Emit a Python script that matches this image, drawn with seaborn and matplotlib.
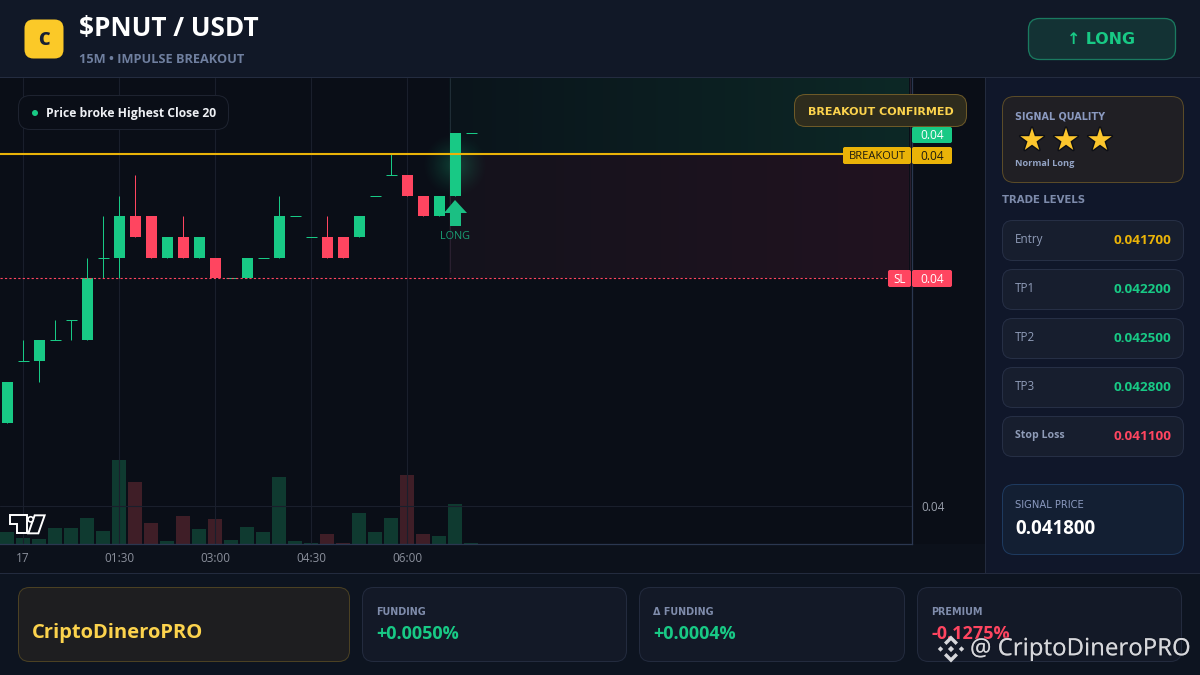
import numpy as np
import pandas as pd
import matplotlib
matplotlib.use("Agg")
import matplotlib.pyplot as plt
import seaborn as sns
from matplotlib.patches import FancyBboxPatch, Rectangle, Polygon, Circle
import matplotlib.patheffects as pe

# ---------- data ----------
opens  = [.0404,.0407,.0407,.0408,.0409,.0408,.0412,.0412,.0414,.0414,.0412,.0413,.0412,.0412,.0411,
          .0411,.0412,.0412,.0414,.0413,.0413,.0413,.0413,.0415,.0416,.0416,.0415,.0414,.0415,.0418]
closes = [.0406,.0407,.0408,.0408,.0409,.0411,.0412,.0414,.0413,.0412,.0413,.0412,.0413,.0411,.0411,
          .0412,.0412,.0414,.0414,.0413,.0412,.0412,.0414,.0415,.0416,.0415,.0414,.0415,.0418,.0418]
highs  = [.0406,.0408,.0408,.0409,.0409,.0412,.0414,.0415,.0416,.0414,.0413,.0414,.0413,.0412,.0411,
          .0412,.0412,.0415,.0414,.0413,.0414,.0413,.0414,.0415,.0417,.0416,.0415,.0415,.0418,.0418]
lows   = [.0404,.0407,.0406,.0408,.0408,.0408,.0411,.0411,.0413,.0412,.0412,.0412,.0412,.0411,.0411,
          .0411,.0412,.0412,.0414,.0413,.0412,.0412,.0413,.0415,.0416,.0415,.0414,.0414,.0415,.0418]
volumes = [12,6,5,16,16,26,13,84,62,21,3,28,15,25,4,17,12,67,3,1,10,1,31,12,26,69,10,8,40,1]
vol_dirs = ["up","up","up","up","up","up","up","up","down","down","up","down","up","down","up",
            "up","up","up","up","up","down","down","up","up","up","down","down","up","up","up"]
time_ticks = [1,7,13,19,25]
time_labels = ["17","01:30","03:00","04:30","06:00"]
breakout_level = 0.0417
stop_level = 0.0411
levels = [("Entry","0.041700"),("TP1","0.042200"),("TP2","0.042500"),("TP3","0.042800"),("Stop Loss","0.041100")]
stats = [("FUNDING","+0.0050%"),("Δ FUNDING","+0.0004%"),("PREMIUM","-0.1275%")]

GREEN="#18c985"; RED="#ff4560"; GOLD="#eab308"; SOFT="#fcd34d"
sns.set_theme(style="dark")
plt.rcParams['font.family']=['Open Sans','DejaVu Sans']

fig=plt.figure(figsize=(12,6.75),dpi=100,facecolor="#0a0e17")
def overlay(z):
    a=fig.add_axes([0,0,1,1],zorder=z); a.set_xlim(0,1200); a.set_ylim(675,0); a.axis("off"); a.patch.set_alpha(0); return a
bg=overlay(0); fg=overlay(5)

def rect(a,x0,y0,x1,y1,c,z=1): a.add_patch(Rectangle((x0,y0),x1-x0,y1-y0,fc=c,ec="none",zorder=z))
def card(a,x0,y0,x1,y1,r,fc,ec,z=2,lw=1.0,alpha=None):
    a.add_patch(FancyBboxPatch((x0+.5,y0+.5),x1-x0-1,y1-y0-1,boxstyle=f"round,pad=0,rounding_size={r}",fc=fc,ec=ec,lw=lw*.72,zorder=z,alpha=alpha,mutation_aspect=1))
def grad(a,x0,y0,x1,y1,c0,c1,z=1.5):
    t=np.linspace(0,1,256)[None,:,None]
    arr=(np.array(c0)[None,None,:]*(1-t)+np.array(c1)[None,None,:]*t)/255
    a.imshow(arr,extent=(x0,x1,y1,y0),aspect="auto",zorder=z,interpolation="bilinear")
    a.set_xlim(0,1200); a.set_ylim(675,0)
def T(a,x,y,s,size,color,weight="normal",ha="left",fam=None,z=6,**k):
    return a.text(x,y+1.3,s,fontsize=size,color=color,fontweight=weight,ha=ha,va="center",family=fam or ['Open Sans','DejaVu Sans'],zorder=z,**k)

# ---------- page regions ----------
rect(bg,0,0,1200,77,"#111827"); rect(bg,0,77,1200,78,"#242c40",1.2)
rect(bg,0,544,985,573,"#0c111b"); rect(bg,985,78,1200,573,"#10172a"); rect(bg,985,78,986,573,"#232b3e",1.2)
rect(bg,0,573,1200,675,"#0d1420"); rect(bg,0,573,1200,574,"#232b3e",1.2)

# zones + glow
grad(bg,449,78,909,155,(10,20,27),(13,40,38))
grad(bg,449,155,909,278,(20,18,28),(33,19,32))
bg.plot([449.5,449.5],[78,155],color="#1f2d36",lw=.72,zorder=1.8)
bg.plot([909.5,909.5],[78,278],color="#2a2030",lw=.72,zorder=1.8)
bg.plot([449.5,449.5],[155,272],color="#2a2030",lw=.72,zorder=1.8)
yy,xx=np.mgrid[-1:1:160j,-1:1:160j]; rr=np.clip(1-np.hypot(xx,yy),0,1)
glow=np.zeros((160,160,4)); glow[...,:3]=np.array([24,201,133])/255; glow[...,3]=.28*rr**1.3
bg.imshow(glow,extent=(422,488,198,132),aspect="auto",zorder=1.9,interpolation="bilinear")
bg.set_xlim(0,1200); bg.set_ylim(675,0)

# ---------- chart ----------
rectc=[0,1-544/675,912/1200,(544-78)/675]
frame=pd.DataFrame(dict(i=range(len(opens)),o=opens,c=closes,h=highs,l=lows,v=volumes,d=vol_dirs))
vol=fig.add_axes(rectc,zorder=1); vol.patch.set_alpha(0)
sns.barplot(data=frame,x="i",y="v",hue="d",hue_order=["up","down"],palette={"up":"#0f3a30","down":"#3f1e27"},
            native_scale=True,dodge=False,width=.9,saturation=1,legend=False,ax=vol,errorbar=None,
            linewidth=0,edgecolor="none")
xl=(-7/16,(912-7)/16)
vol.set_xlim(*xl); vol.set_ylim(0,466); vol.axis("off")

ax=fig.add_axes(rectc,zorder=2); ax.patch.set_alpha(0)
body=frame[frame.o!=frame.c].copy()
body["bot"]=body[["o","c"]].min(axis=1); body["ht"]=(body.o-body.c).abs()
for up,col in ((True,GREEN),(False,RED)):
    s=body[(body.c>body.o)==up]
    sns.barplot(x=s.i.values,y=s.ht.values,bottom=s.bot.values,native_scale=True,color=col,saturation=1,
                width=11/16,errorbar=None,ax=ax,zorder=3,linewidth=0)
wc=[RED if c<o else GREEN for o,c in zip(opens,closes)]
ax.vlines(frame.i,frame.l,frame.h,colors=wc,lw=.72,zorder=2.5,snap=True)
dj=frame[frame.o==frame.c]
ax.hlines(dj.c,dj.i-5.5/16,dj.i+5.5/16,colors=GREEN,lw=.72,zorder=3,snap=True)
ax.plot([xl[0],(843-7)/16],[breakout_level]*2,color=GOLD,lw=1.5,zorder=4)
ax.plot([xl[0],(888-7)/16],[stop_level]*2,color=RED,lw=.8,ls=(0,(2,2)),zorder=4)
ax.set_xlim(*xl)
ax.set_ylim(0.0411-265.7/207000,0.0411+200.3/207000)
ax.set_xticks(time_ticks,time_labels); ax.set_yticks([0.04],["0.04"])
ax.yaxis.tick_right()
ax.tick_params(axis="x",length=0,pad=6,labelsize=8.5,labelcolor="#8b909c")
ax.tick_params(axis="y",length=0,pad=7,labelsize=8.5,labelcolor="#9aa0ac")
ax.set_xlabel(""); ax.set_ylabel("")
ax.grid(True,color="#1a1f2c",lw=.8); ax.set_axisbelow(True)
for k,sp in ax.spines.items(): sp.set_visible(k in("bottom","right")); sp.set_color("#2b3750"); sp.set_linewidth(.9)

# ---------- chart labels ----------
card(fg,18,95,229,130,12,"#0a0e17","#1e2330")
fg.add_patch(Circle((35,113),3,fc=GREEN,ec="none",zorder=6))
T(fg,46,112,"Price broke Highest Close 20",8.7,"#eef0f4","bold")
card(fg,794,94,967,127,11,"#2e2c1d","#6e5a28",z=5)
T(fg,880.5,110.5,"BREAKOUT CONFIRMED",8.0,SOFT,"bold",ha="center",fam="DejaVu Sans")
def pill(x0,x1,y0,y1,c,s,tc,size=8):
    card(fg,x0,y0,x1,y1,1.5,c,c,z=4); T(fg,(x0+x1)/2,(y0+y1)/2-.5,s,size,tc,ha="center")
pill(912,952,127,143,GREEN,"0.04","#ffffff",8.6)
pill(843,911,147,164,GOLD,"BREAKOUT","#1c1a10",8)
pill(912,952,147,164,GOLD,"0.04","#1c1a10",8.6)
pill(888,911,270,287,RED,"SL","#ffffff",8.4)
pill(912,952,270,287,RED,"0.04","#ffffff",8.6)
fg.add_patch(Polygon([(455,200),(467,213),(461,213),(461,226),(450,226),(450,213),(444,213)],fc="#1bbf83",ec="none",zorder=6))
T(fg,455,235,"LONG",7.8,"#1a9d73",ha="center")
# chart-provider logo
ox,oy=0,440
tv=[[(30,226),(80,226),(80,280),(50,280),(50,252),(30,252)],[(104,226),(134,226),(115,280),(85,280)]]
for pts in tv:
    fg.add_patch(Polygon([(x/3+ox,y/3+oy) for x,y in pts],fc="#0a0e17",ec="white",lw=1.4,zorder=6))
fg.add_patch(Circle((92/3,238/3+oy),2.6,fc="#0a0e17",ec="white",lw=1.2,zorder=6))

# ---------- header ----------
card(fg,24,19,64,59,9,"#fbc928","none",z=2)
T(fg,44,39.5,"C",13,"#172033","heavy",ha="center")
T(fg,79,27.5,"$PNUT / USDT",18.8,"#ffffff","bold")
T(fg,79,58.5,"15M • IMPULSE BREAKOUT",9.2,"#6f7f9f","bold")
card(fg,1028,18,1176,60,11,"#133234","#1a7a60",lw=1.3)
T(fg,1101,38.5,"↑ LONG",11.4,GREEN,"heavy",ha="center",fam=["DejaVu Sans"])

# ---------- sidebar ----------
card(fg,1002,96,1184,183,12,"#201f24","#5a4b28")
T(fg,1015,115,"SIGNAL QUALITY",6.9,"#8b9ac0","bold",fam="DejaVu Sans")
for sx in (1032,1066,1100):
    T(fg,sx,140,"★",22,"#fcc62d",ha="center",fam="DejaVu Sans",path_effects=[pe.withStroke(linewidth=2,foreground="#0d0f16")])
T(fg,1015,162.5,"Normal Long",6.6,"#93a3c4","bold")
T(fg,1002,199,"TRADE LEVELS",7.3,"#7d8bab","bold",fam="DejaVu Sans")
ycards=[220,269,318,367,416]
lev_col=[GOLD,GREEN,GREEN,GREEN,RED]
for (n,v),y,c in zip(levels,ycards,lev_col):
    card(fg,1002,y,1184,y+41,10,"#171e2e","#262f45")
    T(fg,1015,y+18.5,n,7.6 if n=="Stop Loss" else 8.4,"#8f9cb8","bold" if n=="Stop Loss" else "normal")
    T(fg,1171,y+19.5,v,9.7,c,"bold",ha="right")
card(fg,1002,484,1184,555,12,"#131f33","#1e3a5f")
T(fg,1015,504,"SIGNAL PRICE",7.2,"#8b9ac0",fam="DejaVu Sans")
T(fg,1015,528,"0.041800",13.5,"#ffffff","bold")

# ---------- footer ----------
card(fg,18,587,350,662,11,"#1e1e20","#4b4123")
T(fg,32,632,"CriptoDineroPRO",14.5,SOFT,"bold")
for (lab,val),x0,x1,c in zip(stats,(362,639,917),(627,905,1182),(GREEN,GREEN,RED)):
    card(fg,x0,587,x1,662,11,"#131927","#232b3e")
    T(fg,x0+14,610.5,lab,6.9,"#7f8cab","bold",fam="DejaVu Sans")
    T(fg,x0+14,633,val,13,c,"bold")

# watermark
wm="#d6d7db"
cx,cy=951,649
chev=[(0,-13.5),(7,-6.5),(4.6,-4),(0,-8.6),(-4.6,-4),(-7,-6.5)]
fg.add_patch(Polygon([(cx+a,cy+b) for a,b in chev],fc=wm,ec="none",zorder=7))
fg.add_patch(Polygon([(cx+a,cy-b) for a,b in chev],fc=wm,ec="none",zorder=7))
for dx,r in ((0,3.1),(-10.5,2.7),(10.5,2.7)):
    fg.add_patch(Polygon([(cx+dx,cy-r),(cx+dx+r,cy),(cx+dx,cy+r),(cx+dx-r,cy)],fc=wm,ec="none",zorder=7))
T(fg,970,648,"@ CriptoDineroPRO",17.2,wm,z=7,fam="Noto Sans",path_effects=[pe.withStroke(linewidth=1.5,foreground="#10141e55")])

fig.savefig("out.png",dpi=100,facecolor=fig.get_facecolor())
